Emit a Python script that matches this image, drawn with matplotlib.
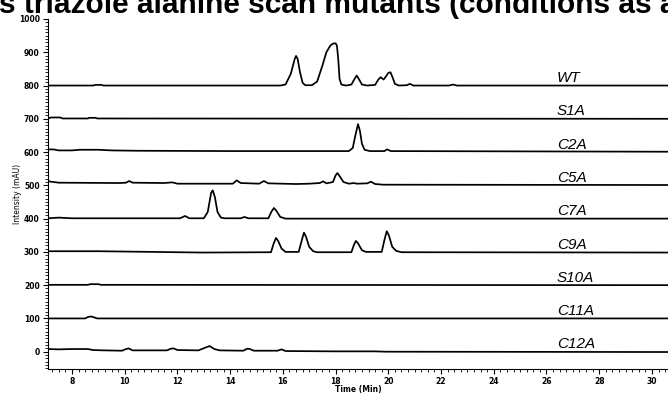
import matplotlib
matplotlib.use("Agg")
import matplotlib.pyplot as plt
from matplotlib.ticker import MultipleLocator

# ---- data (absolute intensity, trace offsets included) ----
wt_t = [7.1, 8.8, 8.9, 9.1, 9.2, 15.9, 16.1, 16.3, 16.45, 16.5, 16.56, 16.65, 16.75, 16.85,
        17.1, 17.3, 17.5, 17.65, 17.8, 17.9, 18.0, 18.05, 18.1, 18.15, 18.22, 18.4,
        18.6, 18.72, 18.8, 18.88, 19.0, 19.2, 19.5, 19.62, 19.71, 19.82, 19.9, 20.0, 20.08,
        20.16, 20.25, 20.4, 20.7, 20.82, 20.95, 22.3, 22.45, 22.6, 31]
wt_v = [800, 800, 802, 802, 800, 800, 803, 835, 880, 889, 880, 840, 808, 801,
        801, 812, 860, 900, 920, 926, 927, 920, 880, 820, 803, 800,
        803, 820, 830, 820, 803, 800, 802, 818, 825, 818, 826, 838, 840,
        825, 805, 800, 801, 805, 800, 800, 803, 800, 800]

s1a_t = [7.1, 7.2, 7.55, 7.65, 8.6, 8.65, 8.9, 8.95, 31]
s1a_v = [701, 704, 704, 701, 701, 703, 703, 701, 700]

c2a_t = [7.1, 7.3, 7.5, 8.0, 8.3, 9.0, 9.5, 10.5, 14.0, 18.5, 18.65, 18.75, 18.85, 18.92,
         19.0, 19.1, 19.3, 19.85, 19.95, 20.1, 31]
c2a_v = [608, 608, 605, 605, 607, 607, 605, 604, 603, 603, 612, 650, 684, 665,
         625, 607, 603, 603, 608, 603, 601]

c5a_t = [7.1, 7.2, 7.5, 9.8, 10.05, 10.17, 10.3, 11.5, 11.8, 12.0, 14.1, 14.25, 14.4, 15.1,
         15.28, 15.45, 16.5, 17.0, 17.4, 17.53, 17.65, 17.9, 18.0, 18.07, 18.15, 18.3, 18.5,
         18.7, 18.8, 19.2, 19.34, 19.5, 19.8, 31]
c5a_v = [513, 511, 508, 507, 508, 513, 508, 507, 509, 505, 505, 515, 507, 505,
         513, 506, 504, 505, 507, 512, 506, 510, 530, 537, 528, 510, 505,
         507, 505, 506, 511, 504, 502, 501]

c7a_t = [7.1, 7.5, 8.0, 12.1, 12.29, 12.45, 13.0, 13.15, 13.28, 13.34, 13.42, 13.52, 13.65,
         13.8, 14.4, 14.54, 14.7, 15.45, 15.56, 15.66, 15.75, 15.9, 16.1, 31]
c7a_v = [401, 403, 401, 401, 408, 401, 401, 420, 478, 485, 465, 420, 403,
         401, 401, 405, 401, 401, 420, 432, 424, 405, 400, 400]

c9a_t = [7.1, 9.0, 13.0, 15.55, 15.65, 15.74, 15.82, 15.95, 16.1, 16.6, 16.7, 16.8, 16.88,
         17.0, 17.15, 17.3, 18.6, 18.7, 18.77, 18.85, 19.0, 19.15, 19.75, 19.85, 19.94,
         20.02, 20.15, 20.3, 20.5, 31]
c9a_v = [302, 302, 298, 299, 325, 342, 333, 310, 300, 300, 330, 358, 345,
         315, 302, 299, 299, 322, 333, 326, 305, 300, 300, 335, 362,
         350, 315, 303, 299, 298]

s10a_t = [7.1, 8.6, 8.7, 9.0, 9.1, 31]
s10a_v = [201, 201, 203, 203, 201, 200]

c11a_t = [7.1, 8.5, 8.6, 8.72, 8.85, 8.95, 31]
c11a_v = [100, 100, 104, 106, 103, 100, 100]

c12a_t = [7.1, 7.5, 8.0, 8.6, 8.8, 9.2, 9.9, 10.02, 10.14, 10.3, 11.6, 11.75, 11.85, 12.0,
          12.8, 13.05, 13.22, 13.4, 13.6, 14.5, 14.65, 14.75, 14.9, 15.8, 15.95, 16.1,
          18.0, 19.5, 19.9, 31]
c12a_v = [8, 7, 8, 8, 5, 4, 3, 7, 10, 4, 4, 9, 10, 5,
          4, 12, 17, 8, 4, 3, 9, 8, 3, 3, 7, 2,
          1, 1, 0, -1]

trace_names = ["WT", "S1A", "C2A", "C5A", "C7A", "C9A", "S10A", "C11A", "C12A"]
trace_offsets = [800, 700, 600, 500, 400, 300, 200, 100, 0]
traces_t = [wt_t, s1a_t, c2a_t, c5a_t, c7a_t, c9a_t, s10a_t, c11a_t, c12a_t]
traces_v = [wt_v, s1a_v, c2a_v, c5a_v, c7a_v, c9a_v, s10a_v, c11a_v, c12a_v]

x_ticks = [8, 10, 12, 14, 16, 18, 20, 22, 24, 26, 28, 30]
y_ticks = [0, 100, 200, 300, 400, 500, 600, 700, 800, 900, 1000]
title = "s triazole alanine scan mutants (conditions as above)"
label_time = 26.4

# ---- figure ----
W, H = 668, 393
fig = plt.figure(figsize=(W / 100, H / 100), dpi=100)
ax = fig.add_axes([48 / W, 1 - 369 / H, 1 - 48 / W, (369 - 19) / H])

for t, v in zip(traces_t, traces_v):
    ax.plot(t, v, color="black", lw=1.25, solid_joinstyle="round")

for name, off in zip(trace_names, trace_offsets):
    ax.text(label_time, off + 10, name, fontsize=11, style="italic",
            family="Liberation Sans", ha="left", va="baseline")

ax.set_xlim(7.09, 30.61)
ax.set_ylim(-52, 1000)
ax.set_xticks(x_ticks)
ax.set_yticks(y_ticks)
ax.xaxis.set_minor_locator(MultipleLocator(0.25))
ax.yaxis.set_minor_locator(MultipleLocator(10))
for s in ["top", "right"]:
    ax.spines[s].set_visible(False)
for s in ["left", "bottom"]:
    ax.spines[s].set_linewidth(0.8)
ax.tick_params(which="major", length=3.5, width=0.8, labelsize=5.5, pad=2.5)
ax.tick_params(which="minor", length=2, width=0.6)
for lab in ax.get_xticklabels() + ax.get_yticklabels():
    lab.set_fontweight("bold")

ax.set_xlabel("Time (Min)", fontsize=5.5, fontweight="bold")
ax.xaxis.set_label_coords(0.5, -0.047)
ax.set_ylabel("Intensity (mAU)", fontsize=5.5)
ax.yaxis.set_label_coords((22 - 48) / 620, 0.5)

fig.text(-0.002, 1 - 13 / H, title, fontsize=21.5, fontweight="bold",
         family="Liberation Sans", ha="left", va="baseline")

fig.savefig("out.png", dpi=100)
